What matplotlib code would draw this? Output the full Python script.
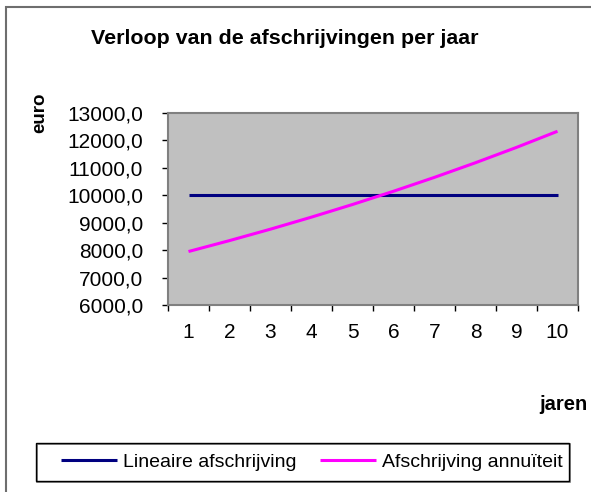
import matplotlib.pyplot as plt
from matplotlib.patches import Rectangle
from matplotlib.ticker import FixedLocator, NullFormatter, FuncFormatter

plt.rcParams["font.family"] = ["Liberation Sans", "DejaVu Sans"]

years = [1, 2, 3, 4, 5, 6, 7, 8, 9, 10]
lineair = [10000, 10000, 10000, 10000, 10000, 10000, 10000, 10000, 10000, 10000]
annuiteit = [7950, 8348, 8765, 9204, 9664, 10147, 10654, 11187, 11746, 12334]
y_ticks = [6000, 7000, 8000, 9000, 10000, 11000, 12000, 13000]

W, H = 591, 492
fig = plt.figure(figsize=(W / 100, H / 100), dpi=100)

# outer chart frame (right/bottom edges fall outside the picture)
fig.patches.append(Rectangle((6 / W, -0.1), 1.2, 1 - 6.5 / H + 0.1,
                             transform=fig.transFigure, fill=False,
                             edgecolor="#6e6e6e", lw=1.5))

ax = fig.add_axes([168 / W, 1 - 305 / H, 410 / W, 192 / H])
ax.set_facecolor("#c0c0c0")
for s in ax.spines.values():
    s.set_color("#808080")
    s.set_linewidth(1.5)

ax.plot(years, lineair, color="#000080", lw=2.2, label="Lineaire afschrijving",
        solid_capstyle="butt")
ax.plot(years, annuiteit, color="#ff00ff", lw=2.2, label="Afschrijving annuïteit",
        solid_capstyle="butt")

ax.set_xlim(0.5, 10.5)
ax.set_ylim(6000, 13000)
ax.set_yticks(y_ticks)
ax.yaxis.set_major_formatter(FuncFormatter(lambda v, p: f"{v:.1f}".replace(".", ",")))
ax.xaxis.set_major_locator(FixedLocator([x + 0.5 for x in range(11)]))
ax.xaxis.set_major_formatter(NullFormatter())
ax.xaxis.set_minor_locator(FixedLocator(years))
ax.set_xticklabels([str(y) for y in years], minor=True)

ax.tick_params(axis="y", direction="out", length=4, width=1, color="black",
               labelsize=15, pad=14)
ax.tick_params(axis="x", which="major", direction="out", length=4, width=1, color="black")
ax.tick_params(axis="x", which="minor", length=0, labelsize=15, pad=13)

fig.text(285 / W, 1 - 38 / H, "Verloop van de afschrijvingen per jaar",
         ha="center", va="center", fontsize=15.4, fontweight="bold")
fig.text(40 / W, 1 - 113 / H, "euro", rotation=90, ha="center", va="center",
         fontsize=13.5, fontweight="bold")
fig.text(563 / W, 1 - 404 / H, "jaren", ha="center", va="center",
         fontsize=14.5, fontweight="bold")

# legend box drawn separately so it can be as wide as in the original
fig.patches.append(Rectangle((37 / W, 1 - 482 / H), 533 / W, 38 / H,
                             transform=fig.transFigure, fill=False,
                             edgecolor="#777777", lw=1.2))
fig.patches.append(Rectangle((36 / W, 1 - 481 / H), 533 / W, 38 / H,
                             transform=fig.transFigure, fill=False,
                             edgecolor="black", lw=1.0))
handles, labels = ax.get_legend_handles_labels()
fig.legend(handles, labels, loc="center", ncol=2,
           bbox_to_anchor=(312 / W, 1 - 462 / H),
           fontsize=14, frameon=False,
           handlelength=2.9, handletextpad=0.3, columnspacing=1.2)

fig.savefig("out.png", dpi=100)
